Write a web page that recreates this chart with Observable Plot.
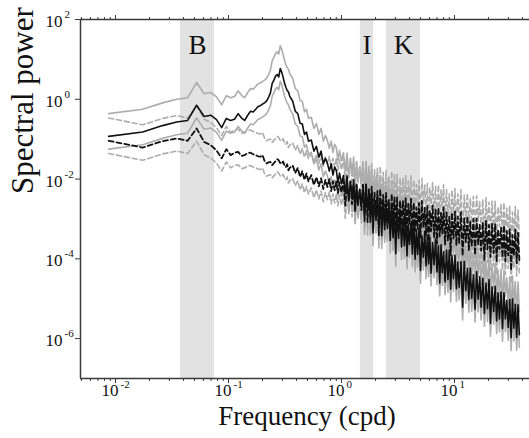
<!DOCTYPE html>
<html>
<head>
<meta charset="utf-8">
<script src="https://cdn.jsdelivr.net/npm/d3@7"></script>
<script src="https://cdn.jsdelivr.net/npm/@observablehq/plot@0.6"></script>
<style>
  html, body { margin: 0; padding: 0; background: #fff; }
  #chart { width: 529px; height: 438px; }
  #chart svg text { font-family: 'Liberation Serif', 'Times New Roman', serif; }
</style>
</head>
<body>
<div id="chart"></div>
<script>
// Frequencies (cpd)
const freq = [
0.0087,0.0174,0.0261,0.0348,0.0435,0.0522,0.0609,0.0696,0.0783,0.087,
0.0957,0.1044,0.1131,0.1218,0.1305,0.1392,0.1479,0.1566,0.1653,0.174,
0.1827,0.1914,0.2001,0.2088,0.2175,0.2262,0.2349,0.2436,0.2523,0.261,
0.2697,0.2784,0.2871,0.2958,0.3045,0.3132,0.3219,0.3306,0.3393,0.348,
0.37,0.39,0.41,0.43,0.45,0.47,0.49,0.51,0.54,0.57,
0.60,0.63,0.66,0.69,0.72,0.75,0.78,0.81,0.84,0.87,
0.90,0.93,0.96,1.0,
1.04,1.08,1.12,1.16,1.2,1.24,1.28,1.32,1.36,1.4,
1.45,1.5,1.55,1.6,1.65,1.7,1.75,1.8,1.85,1.9,
1.96,2.02,2.08,2.14,2.2,2.27,2.34,2.41,2.48,2.55,
2.62,2.7,2.78,2.86,2.94,3.02,3.1,3.2,3.3,3.4,
3.5,3.6,3.7,3.8,3.9,4.0,4.12,4.24,4.36,4.48,
4.6,4.72,4.85,5.0,5.15,5.3,5.45,5.6,5.75,5.9,
6.05,6.2,6.4,6.6,6.8,7.0,7.2,7.4,7.6,7.8,
8.0,8.25,8.5,8.75,9.0,9.25,9.5,9.8,10.1,10.4,
10.7,11.0,
11.4,11.8,12.2,12.6,13.0,13.4,13.8,14.2,14.7,15.2,
15.7,16.2,16.7,17.2,17.8,18.4,19.0,19.6,20.2,20.8,
21.5,22.2,22.9,23.6,24.3,25.0,25.8,26.6,27.4,28.2,
29.0,29.9,30.8,31.7,32.6,33.5,34.5,35.5,36.5,37.5
];

// log10 spectral power, solid black spectrum and its grey bounds
const solidLog = [
-0.93,-0.82,-0.66,-0.57,-0.53,-0.15,-0.43,-0.40,-0.51,-0.71,-0.48,-0.53,-0.50,-0.36,-0.47,-0.53,-0.40,-0.30,-0.32,-0.25,-0.18,-0.16,-0.12,-0.09,-0.04,0.05,0.16,0.40,0.48,0.58,0.62,0.56,0.77,0.68,0.55,0.40,0.30,0.22,0.18,0.08,
-0.05,-0.30,-0.36,-0.60,-0.62,-0.88,-0.82,-1.05,-1.02,-1.30,-1.18,-1.45,-1.30,-1.62,-1.48,-1.60,-1.80,-1.62,-1.90,-1.70,-1.78,-2.10,-1.85,-2.12,
-1.91,-2.37,-1.92,-2.55,-2.06,-2.44,-2.02,-2.76,-2.13,-2.66,-2.26,-2.67,-2.15,-3.06,-2.14,-2.82,-2.35,-3.08,-2.34,-3.35,-2.49,-3.04,-2.40,-3.22,-2.54,-3.42,-2.53,-3.27,-2.69,-3.24,-2.59,-3.54,-2.75,-3.47,-2.88,-3.87,-2.82,-3.49,-2.83,-3.70,
-3.00,-3.67,-2.96,-3.93,-3.13,-3.64,-3.11,-3.88,-3.08,-4.01,-3.27,-3.89,-3.24,-4.29,-3.42,-3.96,-3.31,-4.18,-3.44,-4.13,-3.46,-4.36,-3.59,-4.15,-3.50,-4.33,-3.67,-4.61,-3.65,-4.35,-3.82,-4.58,-3.78,-4.52,-3.78,-4.76,-3.92,-4.50,-3.91,-4.75,-4.08,-4.71,
-4.07,-5.21,-4.06,-4.80,-4.24,-5.02,-4.23,-4.99,-4.40,-5.26,-4.32,-5.01,-4.45,-5.21,-4.49,-5.37,-4.61,-5.25,-4.52,-5.62,-4.70,-5.32,-4.69,-5.56,-4.85,-5.51,-4.83,-5.75,-4.85,-5.51,-5.04,-5.72,-5.02,-5.98,-5.00,-5.74,-5.14,-5.97,-5.15,-5.90
];
const solidUpperLog = [
-0.36,-0.25,-0.09,0.00,0.04,0.42,0.14,0.17,0.06,-0.14,0.09,0.04,0.07,0.21,0.10,0.04,0.17,0.27,0.25,0.32,0.39,0.41,0.45,0.48,0.53,0.62,0.73,0.97,1.05,1.15,1.19,1.13,1.34,1.25,1.12,0.97,0.87,0.79,0.75,0.65,
0.52,0.27,0.21,-0.03,-0.05,-0.31,-0.25,-0.48,-0.45,-0.73,-0.61,-0.88,-0.73,-1.05,-0.91,-1.03,-1.23,-1.05,-1.33,-1.13,-1.21,-1.53,-1.28,-1.55,
-1.34,-1.80,-1.35,-1.98,-1.49,-1.87,-1.45,-2.19,-1.56,-2.09,-1.69,-2.10,-1.58,-2.49,-1.57,-2.25,-1.78,-2.51,-1.77,-2.78,-1.92,-2.47,-1.83,-2.65,-1.97,-2.85,-1.96,-2.70,-2.12,-2.67,-2.02,-2.97,-2.18,-2.90,-2.31,-3.30,-2.25,-2.92,-2.26,-3.13,
-2.43,-3.10,-2.39,-3.36,-2.56,-3.07,-2.54,-3.31,-2.51,-3.44,-2.70,-3.32,-2.67,-3.72,-2.85,-3.39,-2.74,-3.61,-2.87,-3.56,-2.89,-3.79,-3.02,-3.58,-2.93,-3.76,-3.10,-4.04,-3.08,-3.78,-3.25,-4.01,-3.21,-3.95,-3.21,-4.19,-3.35,-3.93,-3.34,-4.18,-3.51,-4.14,
-3.50,-4.64,-3.49,-4.23,-3.67,-4.45,-3.66,-4.42,-3.83,-4.69,-3.75,-4.44,-3.88,-4.64,-3.92,-4.80,-4.04,-4.68,-3.95,-5.05,-4.13,-4.75,-4.12,-4.99,-4.28,-4.94,-4.26,-5.18,-4.28,-4.94,-4.47,-5.15,-4.45,-5.41,-4.43,-5.17,-4.57,-5.40,-4.58,-5.33
];
const solidLowerLog = [
-1.25,-1.14,-0.98,-0.89,-0.85,-0.47,-0.75,-0.72,-0.83,-1.03,-0.80,-0.85,-0.82,-0.68,-0.79,-0.85,-0.72,-0.62,-0.64,-0.57,-0.50,-0.48,-0.44,-0.41,-0.36,-0.27,-0.16,0.08,0.16,0.26,0.30,0.24,0.45,0.36,0.23,0.08,-0.02,-0.10,-0.14,-0.24,
-0.37,-0.62,-0.68,-0.92,-0.94,-1.20,-1.14,-1.37,-1.34,-1.62,-1.50,-1.77,-1.62,-1.94,-1.80,-1.92,-2.12,-1.94,-2.22,-2.02,-2.10,-2.42,-2.17,-2.44,
-2.23,-2.69,-2.24,-2.87,-2.38,-2.76,-2.34,-3.08,-2.45,-2.98,-2.58,-2.99,-2.47,-3.38,-2.46,-3.14,-2.67,-3.40,-2.66,-3.67,-2.81,-3.36,-2.72,-3.54,-2.86,-3.74,-2.85,-3.59,-3.01,-3.56,-2.91,-3.86,-3.07,-3.79,-3.20,-4.19,-3.14,-3.81,-3.15,-4.02,
-3.32,-3.99,-3.28,-4.25,-3.45,-3.96,-3.43,-4.20,-3.40,-4.33,-3.59,-4.21,-3.56,-4.61,-3.74,-4.28,-3.63,-4.50,-3.76,-4.45,-3.78,-4.68,-3.91,-4.47,-3.82,-4.65,-3.99,-4.93,-3.97,-4.67,-4.14,-4.90,-4.10,-4.84,-4.10,-5.08,-4.24,-4.82,-4.23,-5.07,-4.40,-5.03,
-4.39,-5.53,-4.38,-5.12,-4.56,-5.34,-4.55,-5.31,-4.72,-5.58,-4.64,-5.33,-4.77,-5.53,-4.81,-5.69,-4.93,-5.57,-4.84,-5.94,-5.02,-5.64,-5.01,-5.88,-5.17,-5.83,-5.15,-6.07,-5.17,-5.83,-5.36,-6.04,-5.34,-6.30,-5.32,-6.06,-5.46,-6.29,-5.47,-6.22
];

// log10 spectral power, dashed black spectrum and its grey bounds
const dashLog = [
-1.04,-1.21,-1.05,-0.98,-1.04,-0.73,-1.07,-1.15,-1.28,-1.48,-1.25,-1.40,-1.34,-1.32,-1.42,-1.40,-1.35,-1.34,-1.38,-1.40,-1.43,-1.44,-1.40,-1.55,-1.61,-1.58,-1.57,-1.65,-1.60,-1.55,-1.50,-1.53,-1.60,-1.62,-1.56,-1.66,-1.70,-1.63,-1.78,-1.72,
-1.66,-1.85,-1.72,-1.95,-1.80,-2.02,-1.86,-2.06,-1.90,-2.15,-1.95,-2.18,-1.98,-2.25,-2.02,-2.20,-2.00,-2.30,-2.05,-2.28,-2.06,-2.35,-2.08,-2.34,
-2.04,-2.67,-2.12,-2.51,-2.05,-2.63,-2.17,-2.82,-2.15,-2.63,-2.26,-2.78,-2.14,-2.87,-2.12,-3.08,-2.24,-2.80,-2.19,-3.02,-2.34,-2.96,-2.30,-3.41,-2.25,-2.97,-2.40,-3.16,-2.35,-3.11,-2.50,-3.33,-2.37,-3.04,-2.46,-3.21,-2.46,-3.32,-2.54,-3.16,
-2.54,-3.17,-2.48,-3.34,-2.62,-3.13,-2.49,-3.51,-2.59,-3.30,-2.71,-3.25,-2.60,-3.49,-2.55,-3.21,-2.72,-3.43,-2.68,-3.66,-2.78,-3.31,-2.66,-3.46,-2.76,-3.62,-2.72,-3.44,-2.84,-3.37,-2.71,-3.64,-2.83,-3.54,-2.93,-3.90,-2.84,-3.49,-2.81,-3.66,-2.94,-3.60,
-2.83,-3.92,-2.98,-3.58,-2.93,-3.78,-3.05,-3.69,-3.00,-3.90,-2.99,-3.63,-3.14,-3.80,-3.08,-4.03,-3.04,-3.77,-3.15,-3.96,-3.12,-3.86,-3.12,-4.08,-3.26,-3.76,-3.21,-3.96,-3.16,-4.07,-3.30,-3.92,-3.25,-4.29,-3.40,-3.92,-3.26,-4.11,-3.35,-4.03
];
const dashUpperLog = [
-0.47,-0.64,-0.48,-0.41,-0.47,-0.16,-0.50,-0.58,-0.71,-0.91,-0.68,-0.83,-0.77,-0.75,-0.85,-0.83,-0.78,-0.77,-0.81,-0.83,-0.86,-0.87,-0.83,-0.98,-1.04,-1.01,-1.00,-1.08,-1.03,-0.98,-0.93,-0.96,-1.03,-1.05,-0.99,-1.09,-1.13,-1.06,-1.21,-1.15,
-1.09,-1.28,-1.15,-1.38,-1.23,-1.45,-1.29,-1.49,-1.33,-1.58,-1.38,-1.61,-1.41,-1.68,-1.45,-1.63,-1.43,-1.73,-1.48,-1.71,-1.49,-1.78,-1.51,-1.77,
-1.47,-2.10,-1.55,-1.94,-1.48,-2.06,-1.60,-2.25,-1.58,-2.06,-1.69,-2.21,-1.57,-2.30,-1.55,-2.51,-1.67,-2.23,-1.62,-2.45,-1.77,-2.39,-1.73,-2.84,-1.68,-2.40,-1.83,-2.59,-1.78,-2.54,-1.93,-2.76,-1.80,-2.47,-1.89,-2.64,-1.89,-2.75,-1.97,-2.59,
-1.97,-2.60,-1.91,-2.77,-2.05,-2.56,-1.92,-2.94,-2.02,-2.73,-2.14,-2.68,-2.03,-2.92,-1.98,-2.64,-2.15,-2.86,-2.11,-3.09,-2.21,-2.74,-2.09,-2.89,-2.19,-3.05,-2.15,-2.87,-2.27,-2.80,-2.14,-3.07,-2.26,-2.97,-2.36,-3.33,-2.27,-2.92,-2.24,-3.09,-2.37,-3.03,
-2.26,-3.35,-2.41,-3.01,-2.36,-3.21,-2.48,-3.12,-2.43,-3.33,-2.42,-3.06,-2.57,-3.23,-2.51,-3.46,-2.47,-3.20,-2.58,-3.39,-2.55,-3.29,-2.55,-3.51,-2.69,-3.19,-2.64,-3.39,-2.59,-3.50,-2.73,-3.35,-2.68,-3.72,-2.83,-3.35,-2.69,-3.54,-2.78,-3.46
];
const dashLowerLog = [
-1.36,-1.53,-1.37,-1.30,-1.36,-1.05,-1.39,-1.47,-1.60,-1.80,-1.57,-1.72,-1.66,-1.64,-1.74,-1.72,-1.67,-1.66,-1.70,-1.72,-1.75,-1.76,-1.72,-1.87,-1.93,-1.90,-1.89,-1.97,-1.92,-1.87,-1.82,-1.85,-1.92,-1.94,-1.88,-1.98,-2.02,-1.95,-2.10,-2.04,
-1.98,-2.17,-2.04,-2.27,-2.12,-2.34,-2.18,-2.38,-2.22,-2.47,-2.27,-2.50,-2.30,-2.57,-2.34,-2.52,-2.32,-2.62,-2.37,-2.60,-2.38,-2.67,-2.40,-2.66,
-2.36,-2.99,-2.44,-2.83,-2.37,-2.95,-2.49,-3.14,-2.47,-2.95,-2.58,-3.10,-2.46,-3.19,-2.44,-3.40,-2.56,-3.12,-2.51,-3.34,-2.66,-3.28,-2.62,-3.73,-2.57,-3.29,-2.72,-3.48,-2.67,-3.43,-2.82,-3.65,-2.69,-3.36,-2.78,-3.53,-2.78,-3.64,-2.86,-3.48,
-2.86,-3.49,-2.80,-3.66,-2.94,-3.45,-2.81,-3.83,-2.91,-3.62,-3.03,-3.57,-2.92,-3.81,-2.87,-3.53,-3.04,-3.75,-3.00,-3.98,-3.10,-3.63,-2.98,-3.78,-3.08,-3.94,-3.04,-3.76,-3.16,-3.69,-3.03,-3.96,-3.15,-3.86,-3.25,-4.22,-3.16,-3.81,-3.13,-3.98,-3.26,-3.92,
-3.15,-4.24,-3.30,-3.90,-3.25,-4.10,-3.37,-4.01,-3.32,-4.22,-3.31,-3.95,-3.46,-4.12,-3.40,-4.35,-3.36,-4.09,-3.47,-4.28,-3.44,-4.18,-3.44,-4.40,-3.58,-4.08,-3.53,-4.28,-3.48,-4.39,-3.62,-4.24,-3.57,-4.61,-3.72,-4.24,-3.58,-4.43,-3.67,-4.35
];

// Shaded frequency bands
const bandNames = ["B", "I", "K"];
const bandLo = [0.0376, 1.47, 2.5];
const bandHi = [0.0751, 1.92, 5.0];

// Axis ticks
const xMajor = [0.01, 0.1, 1, 10];
const xMajorExp = ["-2", "-1", "0", "1"];
const xMinor = [0.005,0.006,0.007,0.008,0.009,0.02,0.03,0.04,0.05,0.06,0.07,0.08,0.09,
  0.2,0.3,0.4,0.5,0.6,0.7,0.8,0.9,2,3,4,5,6,7,8,9,20,30,40];
const yMajor = [1e2, 1, 1e-2, 1e-4, 1e-6];
const yMajorExp = ["2", "0", "-2", "-4", "-6"];

const n = freq.length;
const rows = (arr) => arr.slice(0, n).map((v, i) => ({f: freq[i], p: Math.pow(10, v)}));
const bands = bandNames.map((name, i) => ({name, lo: bandLo[i], hi: bandHi[i]}));
const xTicksMaj = xMajor.map((v, i) => ({v, e: xMajorExp[i]}));
const yTicksMaj = yMajor.map((v, i) => ({v, e: yMajorExp[i]}));

const GREY = "#adadad";
const BLACK = "#111";
const AXIS = "#3a3a3a";
const FONT = "'Liberation Serif', 'Times New Roman', serif";
const xDomain = [Math.pow(10, -2.3097), Math.pow(10, 1.6637)];
const txt = {fontFamily: FONT, fill: "#111"};

const chart = Plot.plot({
  width: 529,
  height: 438,
  marginLeft: 80,
  marginRight: 0,
  marginTop: 19,
  marginBottom: 60,
  style: {fontFamily: FONT, fontSize: "17px", background: "#fff", color: "#111"},
  x: {type: "log", domain: xDomain, axis: null},
  y: {type: "log", domain: [1e-7, 1e2], axis: null},
  marks: [
    Plot.rect(bands, {x1: "lo", x2: "hi", fill: "#e2e2e2"}),
    Plot.line(rows(solidUpperLog), {x: "f", y: "p", stroke: GREY, strokeWidth: 1.6}),
    Plot.line(rows(solidLowerLog), {x: "f", y: "p", stroke: GREY, strokeWidth: 1.6}),
    Plot.line(rows(dashUpperLog), {x: "f", y: "p", stroke: GREY, strokeWidth: 1.6, strokeDasharray: "5,3"}),
    Plot.line(rows(dashLowerLog), {x: "f", y: "p", stroke: GREY, strokeWidth: 1.6, strokeDasharray: "5,3"}),
    Plot.line(rows(dashLog), {x: "f", y: "p", stroke: BLACK, strokeWidth: 1.8, strokeDasharray: "5,3"}),
    Plot.line(rows(solidLog), {x: "f", y: "p", stroke: BLACK, strokeWidth: 1.6}),
    // frame lines
    Plot.ruleX([xDomain[0]], {stroke: AXIS, strokeWidth: 1.5}),
    Plot.ruleY([1e-7], {stroke: AXIS, strokeWidth: 1.5}),
    Plot.ruleY([1e2], {stroke: AXIS, strokeWidth: 1.5}),
    // ticks
    Plot.axisX(xMinor, {anchor: "bottom", tickSize: 3, tickFormat: () => "", label: null, stroke: AXIS}),
    Plot.axisX(xMajor, {anchor: "bottom", tickSize: 5, tickFormat: () => "", label: null, stroke: AXIS}),
    Plot.axisX(xMinor, {anchor: "top", tickSize: 3, tickFormat: () => "", label: null, stroke: AXIS}),
    Plot.axisX(xMajor, {anchor: "top", tickSize: 5, tickFormat: () => "", label: null, stroke: AXIS}),
    Plot.axisY(yMajor, {anchor: "left", tickSize: 5, tickFormat: () => "", label: null, stroke: AXIS}),
    // x tick labels
    Plot.text(xTicksMaj, {x: "v", frameAnchor: "bottom", dy: 17, dx: 3, textAnchor: "end", text: () => "10", fontSize: 17, ...txt}),
    Plot.text(xTicksMaj, {x: "v", frameAnchor: "bottom", dy: 9, dx: 5, textAnchor: "start", text: "e", fontSize: 11, ...txt}),
    // y tick labels
    Plot.text(yTicksMaj, {y: "v", frameAnchor: "left", dx: -18, dy: 2, textAnchor: "end", text: () => "10", fontSize: 17, ...txt}),
    Plot.text(yTicksMaj, {y: "v", frameAnchor: "left", dx: -16, dy: -5, textAnchor: "start", text: "e", fontSize: 11, ...txt}),
    // band labels
    Plot.text(bands, {x: d => Math.sqrt(d.lo * d.hi), frameAnchor: "top", dy: 15, text: "name", fontSize: 27, ...txt}),
    // axis titles
    Plot.text(["Frequency (cpd)"], {frameAnchor: "bottom", dy: 46, dx: 2, text: d => d, fontSize: 27, ...txt}),
    Plot.text(["Spectral power"], {frameAnchor: "left", rotate: -90, dx: -57, dy: -5, text: d => d, fontSize: 31, ...txt})
  ]
});
document.getElementById("chart").appendChild(chart);
</script>
</body>
</html>
